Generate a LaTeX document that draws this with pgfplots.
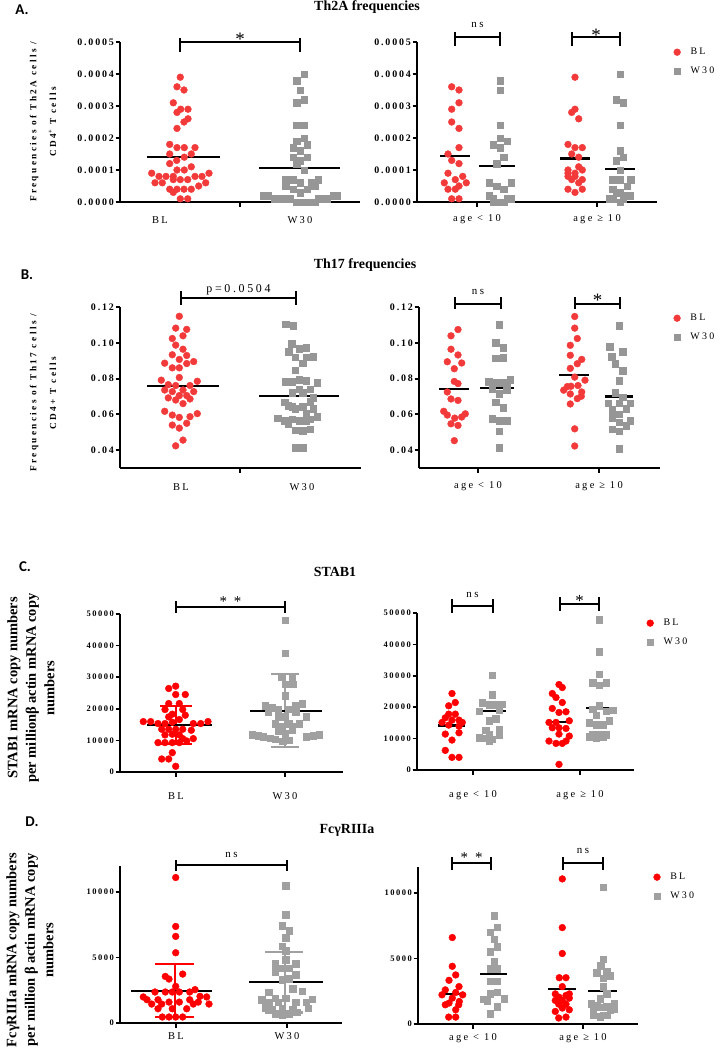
\documentclass[border=0pt]{standalone}
\usepackage{fontspec}
\setmainfont{Liberation Serif}
\newfontfamily\tickf[LetterSpace=18]{Liberation Serif}
\newfontfamily\labf[LetterSpace=26]{Liberation Serif}
\newfontfamily\catf[LetterSpace=22]{Liberation Serif}
\newfontfamily\calf{Carlito}
\usepackage{pgfplots}
\pgfplotsset{compat=1.18}
\definecolor{redA}{RGB}{242,58,58}
\definecolor{grayA}{RGB}{150,150,150}
\definecolor{redC}{RGB}{255,0,0}
\definecolor{grayC}{RGB}{160,160,160}

\pgfplotsset{
  panel/.style={scale only axis, clip=false, enlargelimits=false,
    axis x line*=bottom, axis y line*=left,
    axis line style={line width=2.2bp},
    tick align=outside, major tick length=4.5bp,
    tick style={line width=2bp, black},
    yticklabel style={font=\tickf\bfseries\fontsize{10}{10}\selectfont, inner sep=1.5bp},
    xticklabel style={font=\catf\fontsize{10.5}{10.5}\selectfont},
    scaled y ticks=false},
  ptA/.style={only marks, mark=*, mark size=3.4bp, color=redA, forget plot},
  sqA/.style={only marks, mark=square*, mark size=3.3bp, color=grayA, forget plot},
  ptC/.style={only marks, mark=*, mark size=3.4bp, color=redC, forget plot},
  sqC/.style={only marks, mark=square*, mark size=3.3bp, color=grayC, forget plot},
  mean/.style={black, line width=2.2bp, no marks, forget plot},
  sdr/.style={redC, line width=2.2bp, no marks, forget plot},
  sdg/.style={grayC, line width=2.2bp, no marks, forget plot},
  leg/.style={legend style={draw=none, fill=none, at={#1}, anchor=north west,
     font=\catf\fontsize{10}{10}\selectfont, row sep=7bp, inner sep=0pt},
     legend cell align=left, /tikz/every odd column/.append style={column sep=8bp}},
}
% significance bracket: x1, x2, y ref, bar shift, end top, end bottom
\newcommand\brk[6]{%
  \draw[line width=2.4bp] ([yshift=#4]axis cs:#1,#3) -- ([yshift=#4]axis cs:#2,#3);
  \draw[line width=2.4bp] ([yshift=#5]axis cs:#1,#3) -- ([yshift=#6]axis cs:#1,#3);
  \draw[line width=2.4bp] ([yshift=#5]axis cs:#2,#3) -- ([yshift=#6]axis cs:#2,#3);}

\begin{document}
\begin{tikzpicture}
\path[use as bounding box] (0,0) rectangle (726bp,-1050bp);

% ---------------- A ----------------
\node[font=\calf\bfseries\fontsize{15}{15}\selectfont] at (22bp,-10bp) {A.};
\node[font=\bfseries\fontsize{14}{14}\selectfont] at (367bp,-7bp) {Th2A frequencies};
\node[rotate=90, align=center, font=\labf\bfseries\fontsize{9.3}{20}\selectfont] at (43bp,-122bp)
  {Frequencies of Th2A cells /\\CD4\textsuperscript{+} T cells};

\begin{axis}[panel, at={(120bp,-202bp)}, anchor=south west, width=240bp, height=160bp,
  xmin=120, xmax=360, ymin=0, ymax=0.0005,
  xtick={240}, xticklabels={},
  ytick={0,0.0001,0.0002,0.0003,0.0004,0.0005},
  yticklabels={0.0000,0.0001,0.0002,0.0003,0.0004,0.0005}]
\addplot[ptA] coordinates {(180.3,0.00039) (177,0.00036) (184,0.00035) (173.3,0.00031) (177,0.00028) (180.7,0.00029) (188,0.00029) (188,0.00026) (184,0.00025) (177,0.00023) (169.7,0.00018) (177,0.00017) (184.3,0.00017) (195,0.00017) (169.7,0.00015) (191.3,0.00015) (184.3,0.00014) (176.7,0.00013) (169.7,0.00012) (191.3,0.00011) (177,0.0001) (184.3,0.0001) (151.7,0.00009) (209,0.00009) (159,0.00008) (166,0.00008) (173.3,0.00008) (195,0.00008) (202,0.00008) (180.3,0.00007) (187.7,0.00007) (173.3,0.00007) (155,0.00006) (162.3,0.00006) (205.7,0.00006) (198.7,0.00005) (169.7,0.00004) (177,0.00004) (184,0.00004) (191.3,0.00004) (173.3,0.00003) (180.3,0.00001) (187.7,0.00001)};
\addplot[sqA] coordinates {(304,0.0004) (296.7,0.00038) (300.3,0.00035) (304,0.00032) (296.7,0.00031) (296.7,0.00024) (304,0.00024) (304,0.0002) (296.7,0.00019) (307.3,0.00018) (293,0.00017) (300.3,0.00016) (293,0.00014) (307.3,0.00014) (300.3,0.00013) (296.7,0.00012) (304,0.0001) (285.7,0.00007) (293,0.00007) (318,0.00007) (300.3,0.00006) (311,0.00006) (285.7,0.00005) (314.7,0.00005) (293,0.00004) (307.3,0.00004) (300.3,0.00003) (263,0.00002) (267.7,0.00002) (333.3,0.00002) (337.3,0.00002) (274,0.00001) (278.3,0.00001) (282.3,0.00001) (286.7,0.00001) (290,0.00001) (318.3,0.00001) (322.3,0.00001) (326.7,0.00001) (296.7,0) (300.3,0) (304,0) (307.3,0) (311,0) (314.7,0)};
\addplot[mean] coordinates {(147,0.00014) (220,0.00014)};
\addplot[mean] coordinates {(259,0.000107) (340,0.000107)};
\brk{180}{300}{0.0005}{0bp}{4bp}{-10bp}
\node[font=\fontsize{19}{19}\selectfont, anchor=base] at ([yshift=-3bp]axis cs:240,0.0005) {*};
\node[font=\catf\fontsize{10.5}{10.5}\selectfont] at ([yshift=-18bp]axis cs:160,0) {BL};
\node[font=\catf\fontsize{10.5}{10.5}\selectfont] at ([yshift=-18bp]axis cs:300,0) {W30};
\end{axis}

\begin{axis}[panel, at={(417bp,-202bp)}, anchor=south west, width=240bp, height=160bp,
  xmin=417, xmax=657, ymin=0, ymax=0.0005,
  xtick={477,597}, xticklabels={age < 10, age ≥ 10}, xticklabel style={yshift=-5bp},
  ytick={0,0.0001,0.0002,0.0003,0.0004,0.0005},
  yticklabels={0.0000,0.0001,0.0002,0.0003,0.0004,0.0005},
  leg={(1.069,0.975)}]
\addlegendimage{only marks, mark=*, mark size=3.4bp, redA}
\addlegendentry{BL}
\addlegendimage{only marks, mark=square*, mark size=3.3bp, grayA}
\addlegendentry{W30}
\addplot[ptA] coordinates {(451.7,0.00036) (459,0.00035) (459,0.00031) (451.7,0.00029) (451.7,0.00025) (459,0.00023) (459,0.00017) (448,0.00015) (451.7,0.00013) (459,0.00012) (448,0.00009) (462.7,0.00008) (455.3,0.00007) (444.3,0.00006) (466.3,0.00006) (459,0.00005) (448,0.00004) (455.3,0.00004) (451.7,0.00001) (459,0.00001)};
\addplot[sqA] coordinates {(500.3,0.00038) (500.3,0.00035) (500.3,0.00024) (500.3,0.0002) (507.3,0.00019) (493,0.00018) (500.3,0.00017) (503.7,0.00014) (496.7,0.00012) (489.3,0.00006) (511,0.00006) (496.7,0.00005) (503.7,0.00004) (489.3,0.00002) (493,0.00001) (507.3,0.00001) (511,0.00001) (493,0) (496.7,0) (500.3,0) (503.7,0)};
\addplot[ptA] coordinates {(575,0.00039) (575,0.00029) (571.7,0.00028) (578.7,0.00026) (568,0.00018) (575,0.00017) (582.3,0.00017) (571.7,0.00015) (578.7,0.00014) (578.7,0.00011) (568,0.0001) (582.3,0.0001) (568,0.00009) (575,0.00009) (568,0.00008) (575,0.00008) (571.7,0.00007) (582.3,0.00007) (578.7,0.00006) (568,0.00004) (582.3,0.00004) (575,0.00003)};
\addplot[sqA] coordinates {(620,0.0004) (616,0.00032) (623.3,0.00031) (620,0.00024) (620,0.00016) (623.3,0.00014) (616,0.00013) (620,0.0001) (612.7,0.00007) (620,0.00007) (630.7,0.00007) (627,0.00005) (612.7,0.00004) (616,0.00003) (620,0.00003) (627,0.00002) (630,0.00002) (623.3,0.00002) (609,0.00001) (612.7,0.00001) (623.3,0.00001) (620,0)};
\addplot[mean] coordinates {(440,0.000143) (470,0.000143)};
\addplot[mean] coordinates {(479,0.000112) (515,0.000112)};
\addplot[mean] coordinates {(560,0.000136) (590,0.000136)};
\addplot[mean] coordinates {(605,0.000102) (635,0.000102)};
\brk{455}{500}{0.0005}{5bp}{10bp}{-4bp}
\node[font=\catf\fontsize{11}{11}\selectfont, anchor=base] at ([yshift=15bp]axis cs:477.5,0.0005) {ns};
\brk{572}{620}{0.0005}{5bp}{10bp}{-4bp}
\node[font=\fontsize{19}{19}\selectfont, anchor=base] at ([yshift=1bp]axis cs:596,0.0005) {*};
\end{axis}

% ---------------- B ----------------
\node[font=\calf\bfseries\fontsize{15}{15}\selectfont] at (27bp,-275bp) {B.};
\node[font=\bfseries\fontsize{14}{14}\selectfont] at (365bp,-265bp) {Th17 frequencies};
\node[rotate=90, align=center, font=\labf\bfseries\fontsize{9.3}{20}\selectfont] at (43bp,-393bp)
  {Frequencies of Th17 cells /\\CD4+ T cells};

\begin{axis}[panel, at={(120bp,-468bp)}, anchor=south west, width=241bp, height=161bp,
  xmin=120, xmax=361, ymin=0.03, ymax=0.12,
  xtick={240}, xticklabels={},
  ytick={0.04,0.06,0.08,0.1,0.12},
  yticklabels={0.04,0.06,0.08,0.10,0.12}]
\addplot[ptA] coordinates {(179.3,0.1148) (175.7,0.1082) (186.7,0.1075) (172.3,0.1024) (183,0.1039) (175.7,0.0987) (183,0.0964) (172.3,0.0933) (186.7,0.0929) (179.3,0.0907) (164.7,0.0886) (186.7,0.0884) (193.7,0.0895) (172.3,0.086) (179.3,0.086) (179.3,0.0806) (161.3,0.0791) (197.3,0.0785) (168.3,0.0766) (175.7,0.0761) (190,0.0761) (164.7,0.0736) (172.3,0.0727) (183,0.0736) (193.7,0.0727) (179.3,0.0705) (186.7,0.0705) (168.3,0.0692) (175.7,0.068) (190,0.0686) (183,0.066) (164.7,0.0617) (197.3,0.0604) (172.3,0.0596) (179.3,0.0583) (190,0.0587) (172.3,0.054) (186.7,0.055) (179.3,0.0523) (183,0.0456) (175.7,0.0424)};
\addplot[sqA] coordinates {(285.7,0.1103) (293,0.1095) (291.7,0.0996) (299,0.0966) (306,0.0971) (288.7,0.095) (295.3,0.092) (306,0.092) (313.3,0.0923) (302.7,0.0886) (295.3,0.0847) (285.3,0.0783) (292,0.0781) (299,0.0792) (306,0.0789) (317,0.0776) (299,0.074) (310,0.074) (292,0.072) (302.7,0.0722) (313.3,0.0693) (284.7,0.0667) (310,0.0669) (288.3,0.0647) (292,0.0643) (302.7,0.0643) (295.3,0.063) (313.3,0.063) (306,0.0606) (292,0.0572) (299,0.0564) (306,0.0564) (310,0.0572) (317,0.0587) (277.7,0.0578) (284.7,0.0564) (288.3,0.0544) (295.3,0.0512) (302.7,0.0508) (310,0.0516) (295.3,0.0413) (302.7,0.0415)};
\addplot[mean] coordinates {(147,0.0757) (219,0.0757)};
\addplot[mean] coordinates {(259,0.0702) (339,0.0702)};
\brk{181}{296}{0.12}{9bp}{16bp}{2bp}
\node[font=\catf\fontsize{12}{12}\selectfont, anchor=base] at ([yshift=15bp]axis cs:238.5,0.12) {p=0.0504};
\node[font=\catf\fontsize{10.5}{10.5}\selectfont] at ([yshift=-19bp]axis cs:181,0.03) {BL};
\node[font=\catf\fontsize{10.5}{10.5}\selectfont] at ([yshift=-19bp]axis cs:302,0.03) {W30};
\end{axis}

\begin{axis}[panel, at={(419bp,-468bp)}, anchor=south west, width=241bp, height=161bp,
  xmin=419, xmax=660, ymin=0.03, ymax=0.12,
  xtick={478,599}, xticklabels={age < 10, age ≥ 10}, xticklabel style={yshift=-6bp},
  ytick={0.04,0.06,0.08,0.1,0.12},
  yticklabels={0.04,0.06,0.08,0.10,0.12},
  leg={(1.056,0.969)}]
\addlegendimage{only marks, mark=*, mark size=3.4bp, redA}
\addlegendentry{BL}
\addlegendimage{only marks, mark=square*, mark size=3.3bp, grayA}
\addlegendentry{W30}
\addplot[ptA] coordinates {(458,0.1074) (451,0.1039) (451,0.0964) (458,0.0932) (447.3,0.0894) (461.7,0.0887) (454.3,0.0855) (454.3,0.0784) (458,0.0772) (447.3,0.0725) (451,0.0686) (458,0.0678) (443.7,0.0617) (465.3,0.0603) (447.3,0.0596) (454.7,0.0579) (461.7,0.0585) (451,0.0547) (458,0.0538) (454.3,0.0453)};
\addplot[sqA] coordinates {(499.3,0.1102) (495.7,0.1001) (503,0.0971) (495.7,0.0913) (503,0.0917) (488.7,0.0782) (495.7,0.0776) (499.3,0.0776) (506.7,0.0778) (510.3,0.0793) (492.3,0.0742) (506.7,0.0738) (499.3,0.0714) (495.7,0.0667) (503,0.0637) (492.3,0.0575) (499.3,0.0564) (506.7,0.0566) (499.3,0.0506) (499.3,0.0412)};
\addplot[ptA] coordinates {(574.7,0.1147) (574.7,0.1082) (577.3,0.1024) (570.3,0.0986) (570.3,0.093) (581.7,0.0907) (577.3,0.0883) (570.3,0.0857) (574.7,0.0808) (585,0.0791) (563.7,0.0735) (567.3,0.0755) (571,0.0757) (578,0.0761) (570.3,0.0714) (581.7,0.0725) (581.3,0.0701) (577.3,0.0688) (570.3,0.0658) (574.7,0.0519) (574.7,0.0423)};
\addplot[sqA] coordinates {(619.3,0.1095) (609.7,0.0979) (622.7,0.0949) (611.7,0.0922) (615.3,0.0883) (622.7,0.0844) (619.3,0.0789) (615.3,0.072) (622.7,0.0695) (608.3,0.0663) (619.3,0.0663) (630,0.0663) (612,0.0626) (626.3,0.063) (619.3,0.0601) (612,0.0581) (630,0.0566) (619.3,0.0555) (626.3,0.0536) (612,0.0517) (619.3,0.0506) (619.3,0.0408)};
\addplot[mean] coordinates {(439,0.074) (469,0.074)};
\addplot[mean] coordinates {(480,0.0746) (514,0.0746)};
\addplot[mean] coordinates {(559,0.0822) (589,0.0822)};
\addplot[mean] coordinates {(605,0.07) (633,0.07)};
\brk{455}{501}{0.12}{3bp}{10bp}{-2bp}
\node[font=\catf\fontsize{11}{11}\selectfont, anchor=base] at ([yshift=13bp]axis cs:478,0.12) {ns};
\brk{575}{620}{0.12}{3bp}{10bp}{-2bp}
\node[font=\fontsize{19}{19}\selectfont, anchor=base] at ([yshift=1bp]axis cs:597.5,0.12) {*};
\end{axis}

% ---------------- C ----------------
\node[font=\calf\bfseries\fontsize{15}{15}\selectfont] at (25bp,-567bp) {C.};
\node[font=\bfseries\fontsize{14}{14}\selectfont] at (335bp,-572bp) {STAB1};
\node[rotate=90, align=center, font=\bfseries\fontsize{14.5}{18.5}\selectfont] at (31bp,-688bp)
  {STAB1 mRNA copy numbers\\per millionβ actin mRNA copy\\numbers};

\begin{axis}[panel, at={(120bp,-772bp)}, anchor=south west, width=223bp, height=158bp,
  xmin=120, xmax=343, ymin=0, ymax=50000,
  axis line style={line width=1.8bp}, tick style={line width=1.6bp, black},
  yticklabel style={font=\tickf\bfseries\fontsize{8.5}{8.5}\selectfont},
  xtick={176,285}, xticklabels={BL,W30}, xticklabel style={yshift=-13bp},
  ytick={0,10000,20000,30000,40000,50000},
  yticklabels={0,10000,20000,30000,40000,50000}]
\addplot[ptC] coordinates {(175.7,27170) (168.7,26430) (175.7,24520) (185.3,24520) (168.7,21670) (179.3,21670) (165,19770) (182.7,19770) (172.3,18290) (185.3,17970) (168.7,17440) (179.3,16600) (143.3,15960) (150.7,15960) (158,15330) (165,15330) (172.3,15750) (193.3,15330) (200.7,15330) (208,15960) (161.7,13530) (168.7,13530) (175.7,13530) (182.7,13530) (191.3,13210) (165,11730) (172.3,11950) (179.3,11730) (158,9300) (165,9300) (172.3,9300) (179.3,9300) (186.7,9830) (182.7,10570) (193.3,10570) (172.3,6130) (161.7,4120) (168.7,4120) (175.7,1800)};
\addplot[sqC] coordinates {(285.3,47990) (285.3,37630) (292,30130) (281.7,30130) (285.3,27800) (292.7,27800) (285.3,24100) (265.3,21040) (302.3,21560) (295.7,21140) (271.7,20300) (278.3,19870) (288.7,19870) (268.3,19130) (295.7,19130) (285.3,17440) (278.3,17440) (306,17440) (275,15330) (288.7,15330) (299,15330) (281.7,14380) (292,14380) (278.3,12900) (292,13210) (285.3,12050) (252,11730) (258.3,11420) (263.3,11100) (270,10680) (275,10360) (306,11100) (313.3,11420) (319.3,11730) (282.7,9730) (288.7,10040)};
\addplot[sdr] coordinates {(176,8980) (176,20930)};
\addplot[sdr] coordinates {(160,20930) (192,20930)};
\addplot[sdr] coordinates {(160,8980) (192,8980)};
\addplot[sdg] coordinates {(285,7930) (285,30970)};
\addplot[sdg] coordinates {(271,30970) (299,30970)};
\addplot[sdg] coordinates {(271,7930) (299,7930)};
\addplot[mean] coordinates {(147,14900) (212,14900)};
\addplot[mean] coordinates {(250,19350) (322,19350)};
\brk{176}{285}{50000}{7bp}{13bp}{1bp}
\node[font=\catf\fontsize{15}{15}\selectfont, anchor=base] at ([yshift=8bp]axis cs:230.5,50000) {* *};
\end{axis}

\begin{axis}[panel, at={(417bp,-770bp)}, anchor=south west, width=217bp, height=157bp,
  xmin=417, xmax=634, ymin=0, ymax=50000,
  axis line style={line width=1.8bp}, tick style={line width=1.6bp, black},
  yticklabel style={font=\tickf\bfseries\fontsize{8.5}{8.5}\selectfont},
  xtick={473,580}, xticklabels={age < 10, age ≥ 10}, xticklabel style={yshift=-13bp},
  ytick={0,10000,20000,30000,40000,50000},
  yticklabels={0,10000,20000,30000,40000,50000},
  leg={(1.058,0.975)}]
\addlegendimage{only marks, mark=*, mark size=3.4bp, redC}
\addlegendentry{BL}
\addlegendimage{only marks, mark=square*, mark size=3.3bp, grayC}
\addlegendentry{W30}
\addplot[ptC] coordinates {(452,24360) (448.7,20450) (455.3,21500) (448.7,17800) (455.3,17800) (445.3,16630) (452,15890) (459,15890) (442,15150) (462.3,15150) (448.7,14300) (459,13980) (445.3,11440) (459,11860) (452,9530) (445.3,6250) (452,4030) (459,4030)};
\addplot[sqC] coordinates {(492.3,30190) (492.3,24050) (482.3,21500) (489,20870) (495.7,20870) (502.3,20980) (479,18750) (499,19070) (489,15780) (495.7,16310) (485.7,12710) (499,13030) (489,11230) (499,11230) (485.7,10170) (492.3,9850) (479,10380) (489,9430)};
\addplot[ptC] coordinates {(559,27220) (562.3,26270) (552.3,24360) (556,23090) (562.3,21500) (552.3,19600) (566,18540) (559,18330) (549,15150) (569.3,15680) (556,15150) (552.3,13450) (566,13240) (559,13450) (559,11440) (549,9220) (569.3,10810) (556,8480) (562.3,8480) (566,9220) (559,1800)};
\addplot[sqC] coordinates {(599.3,47880) (599.3,37610) (599.3,30510) (592.7,27860) (599.3,27010) (606,27860) (599.3,20450) (592.7,19390) (606,18750) (612.7,19070) (596,17480) (589.3,15150) (596,14410) (602.7,14410) (609.3,15780) (592.7,11230) (599.3,11440) (606,11230) (589.3,10590) (596,10380) (602.7,10590)};
\addplot[mean] coordinates {(438,14200) (465,14200)};
\addplot[mean] coordinates {(479,18800) (506,18800)};
\addplot[mean] coordinates {(546,15300) (572,15300)};
\addplot[mean] coordinates {(586,19800) (613,19800)};
\brk{452}{493}{50000}{7bp}{14bp}{0bp}
\node[font=\catf\fontsize{11}{11}\selectfont, anchor=base] at ([yshift=16bp]axis cs:472.5,50000) {ns};
\brk{560}{599}{50000}{9bp}{16bp}{2bp}
\node[font=\fontsize{17}{17}\selectfont, anchor=base] at ([yshift=7bp]axis cs:579.5,50000) {*};
\end{axis}

% ---------------- D ----------------
\node[font=\calf\bfseries\fontsize{15}{15}\selectfont] at (32bp,-822bp) {D.};
\node[font=\bfseries\fontsize{14}{14}\selectfont] at (347bp,-830bp) {FcγRIIIa};
\node[rotate=90, align=center, font=\bfseries\fontsize{14.5}{18.5}\selectfont] at (30bp,-950bp)
  {FcγRIIIa mRNA copy numbers\\per million β actin mRNA copy\\numbers};

\begin{axis}[panel, at={(120bp,-1023bp)}, anchor=south west, width=222bp, height=157bp,
  xmin=120, xmax=342, ymin=0, ymax=12000,
  axis line style={line width=1.8bp}, tick style={line width=1.6bp, black},
  yticklabel style={font=\tickf\bfseries\fontsize{8.5}{8.5}\selectfont},
  xtick={176,287}, xticklabels={BL,W30}, xticklabel style={yshift=-2bp},
  ytick={0,5000,10000}, yticklabels={0,5000,10000}]
\addplot[ptC] coordinates {(175.7,11120) (175.7,7380) (175.7,6620) (175.7,5370) (182.7,3740) (165.3,3560) (169,3360) (175.7,2800) (195,2550) (155,2370) (165.3,2370) (172.3,2370) (179.3,2370) (189.7,2370) (143.3,1990) (200,2040) (206.7,1990) (147,1780) (158,1780) (169,1600) (179.3,1600) (189.7,1780) (198.3,1600) (151.7,1450) (161.7,1450) (193.3,1450) (209,1450) (158,1090) (172.3,1090) (186.7,1090) (162.3,460) (169,460) (175.7,460) (182.7,460)};
\addplot[sqC] coordinates {(285.7,10480) (285.7,8270) (282,7430) (289.3,7050) (285.7,6540) (282,5880) (285.7,5550) (285.7,4840) (275.3,4530) (295.7,4530) (282,4200) (289.3,4200) (275.3,3940) (295.7,3690) (282,3310) (289.3,3380) (268.7,2340) (292.7,2620) (302.3,2420) (261.7,1780) (275.3,1910) (285.7,1910) (312.3,1830) (268.7,1530) (278.3,1600) (295.7,1600) (306,1600) (265,1150) (271.7,1020) (282,1090) (292.7,1020) (308.3,1120) (275,710) (282,590) (289.3,710) (296.7,840)};
\addplot[sdr] coordinates {(175,430) (175,4530)};
\addplot[sdr] coordinates {(155,4530) (194,4530)};
\addplot[sdr] coordinates {(155,430) (194,430)};
\addplot[sdg] coordinates {(285,810) (285,5450)};
\addplot[sdg] coordinates {(265,5450) (303,5450)};
\addplot[sdg] coordinates {(265,810) (303,810)};
\addplot[mean] coordinates {(131,2470) (212,2470)};
\addplot[mean] coordinates {(249,3130) (323,3130)};
\brk{176}{287}{12000}{1bp}{6bp}{-5bp}
\node[font=\catf\fontsize{11}{11}\selectfont, anchor=base] at ([yshift=9bp]axis cs:231.5,12000) {ns};
\end{axis}

\begin{axis}[panel, at={(418bp,-1024bp)}, anchor=south west, width=220bp, height=157bp,
  xmin=418, xmax=638, ymin=0, ymax=12000,
  axis line style={line width=1.8bp}, tick style={line width=1.6bp, black},
  yticklabel style={font=\tickf\bfseries\fontsize{8.5}{8.5}\selectfont},
  xtick={473,583}, xticklabels={age < 10, age ≥ 10}, xticklabel style={yshift=-2bp},
  ytick={0,5000,10000}, yticklabels={0,5000,10000},
  leg={(1.07,0.975)}]
\addlegendimage{only marks, mark=*, mark size=3.4bp, redC}
\addlegendentry{BL}
\addlegendimage{only marks, mark=square*, mark size=3.3bp, grayC}
\addlegendentry{W30}
\addplot[ptC] coordinates {(452.3,6610) (452.3,4410) (455.7,3750) (449,3340) (459,2860) (445.3,2610) (455.7,2410) (442,2230) (462.7,2230) (452.3,1980) (449,1600) (459.3,1720) (445.3,1470) (458.7,1470) (455.7,1090) (448.7,530) (455.7,530)};
\addplot[sqC] coordinates {(494,8280) (497.3,7390) (490.3,7010) (494,6480) (497.3,5900) (490.3,5520) (494,4760) (490.3,4230) (497.3,4230) (490.3,3270) (497.3,3270) (490.3,2300) (497.3,2430) (483.3,1900) (487,1800) (504,1920) (497.3,1320) (490.3,780)};
\addplot[ptC] coordinates {(562.3,11090) (562.3,7370) (562.3,5390) (559.3,3540) (566,3540) (562.3,2860) (555.3,2300) (569.3,2300) (566,2180) (559,2050) (555.3,1800) (562.3,1800) (569.3,1980) (558.7,1520) (566,1520) (562.3,1220) (555.3,960) (569.3,1090) (558.7,460) (566,530)};
\addplot[sqC] coordinates {(603.3,10460) (603.3,4940) (600.7,4460) (596.7,3920) (606.7,4050) (610.3,3670) (603.3,3490) (603.3,2860) (606.7,2300) (600,1920) (591.3,1570) (614,1570) (596.7,1420) (593.3,1170) (600,1290) (606.7,1340) (614,1170) (610.3,1060) (593.3,660) (603.3,660) (600,560) (606.7,660)};
\addplot[mean] coordinates {(439,2270) (466,2270)};
\addplot[mean] coordinates {(480,3800) (507,3800)};
\addplot[mean] coordinates {(548,2650) (576,2650)};
\addplot[mean] coordinates {(588,2550) (617,2550)};
\brk{452}{491}{12000}{4bp}{10bp}{-3bp}
\node[font=\catf\fontsize{15}{15}\selectfont, anchor=base] at ([yshift=5bp]axis cs:471.5,12000) {* *};
\brk{563}{603}{12000}{4bp}{10bp}{-3bp}
\node[font=\catf\fontsize{11}{11}\selectfont, anchor=base] at ([yshift=14bp]axis cs:583,12000) {ns};
\end{axis}
\end{tikzpicture}
\end{document}
